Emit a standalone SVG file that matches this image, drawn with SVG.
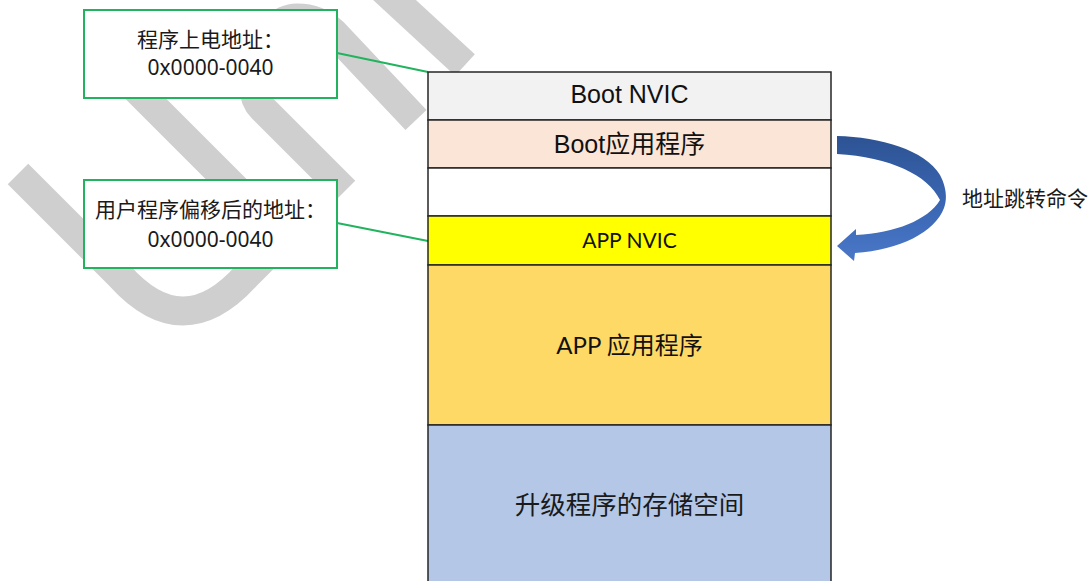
<svg xmlns="http://www.w3.org/2000/svg" width="1089" height="581" viewBox="0 0 1089 581">
<defs>
<style>
.wm{fill:none;stroke:#cfcfcf;stroke-width:29;stroke-linecap:butt;stroke-linejoin:round}
.callout{fill:#ffffff;stroke:#22b35e;stroke-width:2}
.conn{stroke:#22b35e;stroke-width:2;fill:none}
.cell{stroke:#262626;stroke-width:1.5}
.cjk{font-family:"Noto Sans","Noto Sans CJK SC",sans-serif;fill:#1a1a1a}
.arial{font-family:"Liberation Sans","Noto Sans CJK SC",sans-serif;fill:#111}
.cal{font-family:Lato,"Noto Sans CJK SC",sans-serif;fill:#111}
</style>
<linearGradient id="arrowGrad" x1="0" y1="136" x2="0" y2="261" gradientUnits="userSpaceOnUse">
<stop offset="0" stop-color="#2d5393"/>
<stop offset="0.55" stop-color="#3a66b3"/>
<stop offset="1" stop-color="#4a78c8"/>
</linearGradient>
</defs>
<rect x="0" y="0" width="1089" height="581" fill="#ffffff"/>
<g id="watermark">
<path class="wm" d="M18,174 L120,276 Q183,346 246,276 L292,230"/>
<path class="wm" d="M110,63 L265,218"/>
<path class="wm" d="M345,191 L262,108 C240,86 262,18 297,18 Q318,18 333,32 L416,120"/>
<path class="wm" d="M362,-30 L465,65"/>
</g>
<g id="connectors">
<line class="conn" x1="337" y1="53" x2="428" y2="72"/>
<line class="conn" x1="337" y1="223" x2="428" y2="241"/>
<path id="jump-arrow" d="M837,136 C880,137 925,150 940,175 C947,188 947,200 944,208 C935,232 900,250 855,253 L854,261 L837,246 L856,229 L856,235 C895,233 928,220 940,200 C928,175 890,157 837,154 Z" fill="url(#arrowGrad)"/>
</g>
<g id="callout-boot">
<rect class="callout" x="84" y="10" width="253" height="88"/>
<text class="cjk" x="210.5" y="47" font-size="21" text-anchor="middle">程序上电地址：</text>
<text class="cjk" x="210.5" y="75" font-size="21" text-anchor="middle">0x0000-0040</text>
</g>
<g id="callout-app">
<rect class="callout" x="84" y="180" width="253" height="88"/>
<text class="cjk" x="210.5" y="217" font-size="21" text-anchor="middle">用户程序偏移后的地址：</text>
<text class="cjk" x="210.5" y="247" font-size="21" text-anchor="middle">0x0000-0040</text>
</g>
<g id="boot-nvic">
<rect class="cell" x="428" y="72" width="403" height="48" fill="#f2f2f2"/>
<text class="arial" x="629.5" y="103" font-size="25" text-anchor="middle">Boot NVIC</text>
</g>
<g id="boot-app">
<rect class="cell" x="428" y="120" width="403" height="48" fill="#fbe5d6"/>
<text class="arial" x="629.5" y="153" font-size="25" text-anchor="middle">Boot应用程序</text>
</g>
<g id="gap">
<rect class="cell" x="428" y="168" width="403" height="48" fill="#ffffff"/>
</g>
<g id="app-nvic">
<rect class="cell" x="428" y="216" width="403" height="49" fill="#ffff00"/>
<text class="cal" x="629.5" y="248" font-size="21" text-anchor="middle">APP NVIC</text>
</g>
<g id="app-code">
<rect class="cell" x="428" y="265" width="403" height="160" fill="#ffd966"/>
<text class="cal" x="629.5" y="354" font-size="24" text-anchor="middle">APP 应用程序</text>
</g>
<g id="upgrade-space">
<rect class="cell" x="428" y="425" width="403" height="170" fill="#b4c7e7"/>
<text class="cjk" x="629.5" y="514" font-size="25.5" text-anchor="middle">升级程序的存储空间</text>
</g>
<g id="jump-label">
<text class="cjk" x="962" y="206" font-size="21">地址跳转命令</text>
</g>
</svg>
